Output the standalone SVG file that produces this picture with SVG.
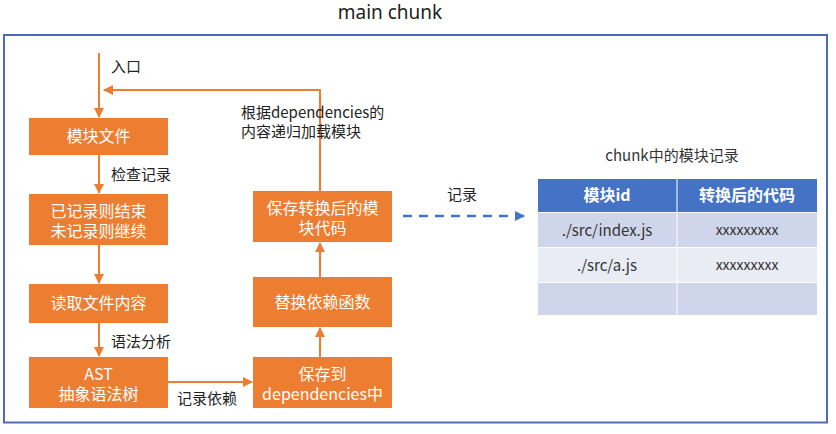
<svg xmlns="http://www.w3.org/2000/svg" width="836" height="434" viewBox="0 0 836 434">
<defs>
<style>
.t{font-family:"Noto Sans CJK SC","Liberation Sans",sans-serif;font-size:15px;fill:#222}
.n rect{fill:#ED7D31}
.n text{font-family:"Noto Sans CJK SC","Liberation Sans",sans-serif;font-size:16px;fill:#fff;text-anchor:middle}
.c{stroke:#ED7D31;stroke-width:2;fill:none}
.th{fill:#4472C4}
.r1{fill:#CFD5EA}
.r2{fill:#E9EBF5}
.tt{font-family:"Noto Sans CJK SC","Liberation Sans",sans-serif;font-size:15px;text-anchor:middle;fill:#333}
.hd{font-family:"Noto Sans CJK SC","Liberation Sans",sans-serif;font-size:16px;text-anchor:middle;fill:#fff;font-weight:bold}
</style>
<marker id="ao" viewBox="0 0 10 10" refX="9" refY="5" markerWidth="5" markerHeight="5" orient="auto" markerUnits="strokeWidth">
<path d="M0,0 L10,5 L0,10 z" fill="#ED7D31"/>
</marker>
<marker id="ab" viewBox="0 0 10 10" refX="9" refY="5" markerWidth="4" markerHeight="4" orient="auto" markerUnits="strokeWidth">
<path d="M0,0 L10,5 L0,10 z" fill="#4472C4"/>
</marker>
</defs>
<rect width="836" height="434" fill="#fff"/>
<text x="390" y="19" style="font-family:'Noto Sans','Liberation Sans',sans-serif;font-size:19px;fill:#222" text-anchor="middle">main chunk</text>
<rect id="frame" x="4" y="35" width="823" height="387.5" fill="none" stroke="#4A6DB5" stroke-width="2"/>

<g id="connectors">
<line class="c" x1="99" y1="53" x2="99" y2="117" marker-end="url(#ao)"/>
<line class="c" x1="99" y1="155" x2="99" y2="193" marker-end="url(#ao)"/>
<line class="c" x1="99" y1="245" x2="99" y2="283" marker-end="url(#ao)"/>
<line class="c" x1="99" y1="323" x2="99" y2="356" marker-end="url(#ao)"/>
<line class="c" x1="168" y1="382" x2="252" y2="382" marker-end="url(#ao)"/>
<line class="c" x1="320" y1="357" x2="320" y2="328" marker-end="url(#ao)"/>
<line class="c" x1="320" y1="277" x2="320" y2="243" marker-end="url(#ao)"/>
<polyline class="c" points="320,191 320,90 104,90" marker-end="url(#ao)"/>
<line x1="403" y1="216" x2="524" y2="216" stroke="#4472C4" stroke-width="2.5" stroke-dasharray="9,7" marker-end="url(#ab)"/>
</g>

<text class="t" x="111" y="72">入口</text>
<text class="t" x="111" y="180">检查记录</text>
<text class="t" x="111" y="347">语法分析</text>
<text class="t" x="177" y="404">记录依赖</text>
<text class="t" x="241" y="118">根据dependencies的</text>
<text class="t" x="241" y="137">内容递归加载模块</text>
<text class="t" x="462" y="200" text-anchor="middle">记录</text>

<g id="n1" class="n"><rect x="29" y="118" width="139" height="37"/><text x="98.5" y="142">模块文件</text></g>
<g id="n2" class="n"><rect x="29" y="194" width="139" height="51"/><text x="98.5" y="216.5">已记录则结束</text><text x="98.5" y="236.5">未记录则继续</text></g>
<g id="n3" class="n"><rect x="29" y="284" width="139" height="39"/><text x="98.5" y="309">读取文件内容</text></g>
<g id="n4" class="n"><rect x="29" y="357" width="139" height="51"/><text x="98.5" y="379.5">AST</text><text x="98.5" y="399.5">抽象语法树</text></g>
<g id="n5" class="n"><rect x="253" y="357" width="139" height="51"/><text x="322.5" y="379.5">保存到</text><text x="322.5" y="399.5">dependencies中</text></g>
<g id="n6" class="n"><rect x="253" y="277" width="139" height="50"/><text x="322.5" y="308">替换依赖函数</text></g>
<g id="n7" class="n"><rect x="253" y="191" width="139" height="51"/><text x="322.5" y="213.5">保存转换后的模</text><text x="322.5" y="233.5">块代码</text></g>

<g id="table">
<text class="tt" x="672" y="161">chunk中的模块记录</text>
<rect class="th" x="538" y="179" width="138.5" height="33"/>
<rect class="th" x="677.5" y="179" width="139.5" height="33"/>
<rect class="r1" x="538" y="213" width="138.5" height="34"/>
<rect class="r1" x="677.5" y="213" width="139.5" height="34"/>
<rect class="r2" x="538" y="248" width="138.5" height="34"/>
<rect class="r2" x="677.5" y="248" width="139.5" height="34"/>
<rect class="r1" x="538" y="283" width="138.5" height="32"/>
<rect class="r1" x="677.5" y="283" width="139.5" height="32"/>
<text class="hd" x="607" y="201">模块id</text>
<text class="hd" x="747" y="201">转换后的代码</text>
<text class="tt" x="607" y="235.5">./src/index.js</text>
<text class="tt" x="747" y="235" style="font-size:14px">xxxxxxxxx</text>
<text class="tt" x="607" y="270.5">./src/a.js</text>
<text class="tt" x="747" y="270" style="font-size:14px">xxxxxxxxx</text>
</g>
</svg>
